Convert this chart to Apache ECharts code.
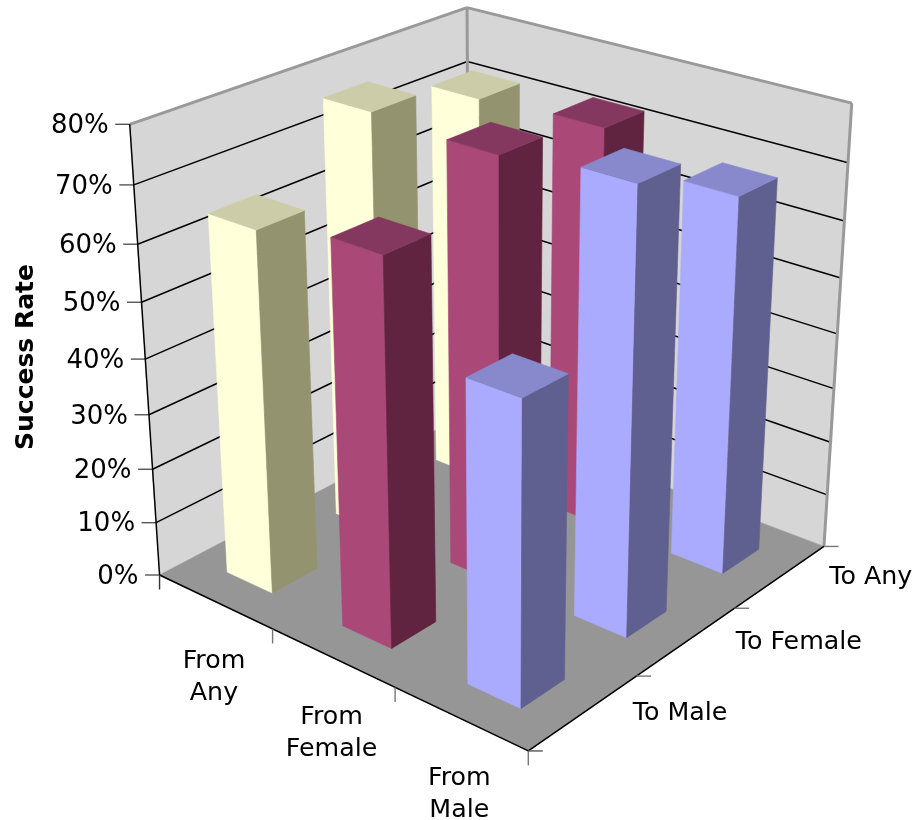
<!DOCTYPE html>
<html><head><meta charset="utf-8"><style>html,body{margin:0;background:#fff}#c{width:913px;height:820px}</style>
<script src="https://cdn.jsdelivr.net/npm/echarts@6/dist/echarts.min.js"></script></head>
<body><div id="c"></div>
<script>
const fromCategories = ['From\nAny', 'From\nFemale', 'From\nMale'];
const toCategories = ['To Male', 'To Female', 'To Any'];
const rateTicks = [0, 10, 20, 30, 40, 50, 60, 70, 80];
const axisTitle = 'Success Rate';
const fromAnyRates = [64.8, 76.9, 72.0];
const fromFemaleRates = [67.8, 75.9, 73.0];
const fromMaleRates = [52.7, 77.8, 67.8];

// Camera of the 3D box: world (from, to, rate) -> page position.
const CAM = [102.5138621,124.6030699,-50.3065278,159.5541113,29.6415179,-35.4234673,-575.8985264,575.0068003,-0.0386214,0.0454641,-0.1006625];
const project = (f, t, r) => {
  const z = r / 100, w = CAM[8]*f + CAM[9]*t + CAM[10]*z + 1;
  return [(CAM[0]*f + CAM[1]*t + CAM[2]*z + CAM[3]) / w, (CAM[4]*f + CAM[5]*t + CAM[6]*z + CAM[7]) / w];
};
const BAR_HALF = 0.2, FONT = '25.3px "DejaVu Sans"', RATE_FONT = '26px "DejaVu Sans"', N = 3, TOP = 80;
const at = (api, f, t, r) => api.coord(project(f, t, r));
const poly = (pts, fill) => ({type:'polygon', shape:{points:pts}, style:{fill, stroke:fill, lineWidth:0.6}});
const seg = (a, b, stroke, lineWidth) => ({type:'line', shape:{x1:a[0],y1:a[1],x2:b[0],y2:b[1]}, style:{stroke, lineWidth}});
const label = (text, x, y, align, font) => ({type:'text', style:{text, x, y, align, verticalAlign:'middle', font:font||FONT, fill:'#000', lineHeight:32}});

function renderWalls(params, api) {
  const p = (f,t,r) => at(api,f,t,r);
  return {type:'group', children:[
    poly([p(0,0,0),p(0,N,0),p(0,N,TOP),p(0,0,TOP)], '#D6D6D6'),
    poly([p(0,N,0),p(N,N,0),p(N,N,TOP),p(0,N,TOP)], '#D6D6D6'),
    poly([p(0,0,0),p(N,0,0),p(N,N,0),p(0,N,0)], '#969696')
  ]};
}
function renderRate(params, api) {
  const r = api.value(0), a = at(api,0,0,r), b = at(api,0,N,r), c = at(api,N,N,r);
  const kids = [seg([a[0]-14.5,a[1]], a, '#555', 1.4), label(r + '%', a[0]-21, a[1]+2, 'right', RATE_FONT)];
  if (r > 0 && r < TOP) kids.unshift(seg(a,b,'#000',1.5), seg(b,c,'#000',1.5));
  return {type:'group', children:kids};
}
function renderFrameEdges(params, api) {
  const p = (f,t,r) => at(api,f,t,r), G = '#999', K = '#000';
  const ft = (i) => { const a = p(i,0,0); return seg(a,[a[0],a[1]+14.5], i===0?'#333':'#777',1.4); };
  const tt = (i) => { const a = p(N,i,0); return seg(a,[a[0]+14.5,a[1]], i===0?'#555':'#777',1.4); };
  return {type:'group', children:[
    seg(p(0,0,TOP),p(0,N,TOP),G,3), seg(p(0,N,TOP),p(N,N,TOP),G,3),
    seg(p(0,N,0),p(0,N,TOP),G,3), seg(p(N,N,0),p(N,N,TOP),G,3),
    seg(p(0,0,0),p(0,0,TOP),K,1.5), seg(p(0,0,0),p(N,0,0),K,1.5), seg(p(N,0,0),p(N,N,0),K,1.5),
    ft(0),ft(1),ft(2),ft(3),tt(0),tt(1),tt(2),tt(3)
  ]};
}
function renderFromLabel(params, api) {
  const a = at(api, api.value(0)+0.5, 0, 0);
  return label(fromCategories[api.value(0)], a[0]-1, a[1]+76, 'center');
}
function renderToLabel(params, api) {
  const a = at(api, N, api.value(0)+0.5, 0);
  return label(toCategories[api.value(0)], a[0]+49, a[1]+1, 'left');
}
function barRenderer(fromIdx, front, side, top) {
  return (params, api) => {
    const f0 = fromIdx+0.5-BAR_HALF, f1 = fromIdx+0.5+BAR_HALF;
    const t0 = api.value(0)+0.5-BAR_HALF, t1 = api.value(0)+0.5+BAR_HALF, r = api.value(1);
    const p = (f,t,z) => at(api,f,t,z);
    return {type:'group', children:[
      poly([p(f0,t0,0),p(f1,t0,0),p(f1,t0,r),p(f0,t0,r)], front),
      poly([p(f1,t0,0),p(f1,t1,0),p(f1,t1,r),p(f1,t0,r)], side),
      poly([p(f0,t0,r),p(f1,t0,r),p(f1,t1,r),p(f0,t1,r)], top)
    ]};
  };
}
const backToFront = rates => [2,1,0].map(i => [i, rates[i]]);
const custom = (name, renderItem, data) => ({type:'custom', name, renderItem, data, silent:true, clip:false, encode:{x:0,y:1}});

const chart = echarts.init(document.getElementById('c'), null, {renderer:'canvas'});
chart.setOption({
  animation:false, backgroundColor:'#fff',
  grid:{left:0,right:0,top:0,bottom:0},
  xAxis:{type:'value',min:0,max:913,show:false},
  yAxis:{type:'value',min:0,max:820,inverse:true,show:false},
  series:[
    custom('walls', renderWalls, [[0,0]]),
    custom('rate ticks', renderRate, rateTicks.map(r=>[r,0])),
    custom('edges', renderFrameEdges, [[0,0]]),
    custom('From Any', barRenderer(0,'#FFFFD9','#93936F','#CCCCA8'), backToFront(fromAnyRates)),
    custom('From Female', barRenderer(1,'#AA4878','#602440','#843860'), backToFront(fromFemaleRates)),
    custom('From Male', barRenderer(2,'#AAAAFF','#606090','#8888CC'), backToFront(fromMaleRates)),
    custom('from labels', renderFromLabel, fromCategories.map((c,i)=>[i,0])),
    custom('to labels', renderToLabel, toCategories.map((c,i)=>[i,0])),
    custom('title', (p,api)=>({type:'text', x:api.coord([26,357])[0], y:api.coord([26,357])[1], rotation:Math.PI/2,
      style:{text:axisTitle,x:0,y:0,align:'center',verticalAlign:'middle',font:'bold 25px "DejaVu Sans"',fill:'#000'}}), [[0,0]])
  ]
});
</script></body></html>
